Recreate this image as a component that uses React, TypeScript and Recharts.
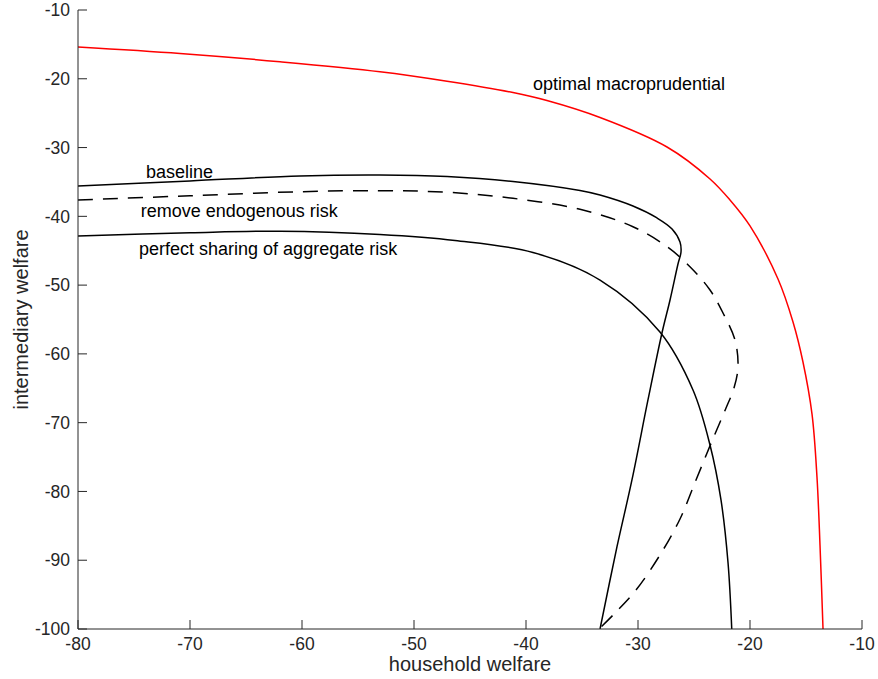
import React from 'react'
import { LineChart, Line, XAxis, YAxis, ReferenceDot } from 'recharts'

// household welfare (x) vs intermediary welfare (y)
const optimalHH = [-80, -70.89, -61.96, -53.04, -47.05, -41.16, -38.13, -33.39, -27.41, -23.57, -21.79, -20.0, -17.5, -16.16, -15.27, -14.46, -14.02, -13.75, -13.48]
const optimalInt = [-15.38, -16.32, -17.52, -18.97, -20.35, -22.0, -23.16, -25.63, -29.92, -34.57, -37.62, -41.4, -49.11, -55.36, -61.18, -68.8, -77.9, -87.78, -100]

const baselineHH = [-80, -70, -60.18, -53.04, -47.05, -41.16, -35.18, -33.39, -30.45, -28.3, -26.96, -26.25, -26.16, -26.43, -27.14, -27.86, -29.11, -30.54, -31.88, -33.39]
const baselineInt = [-35.59, -34.86, -34.13, -33.99, -34.21, -34.93, -36.24, -36.9, -38.5, -40.24, -41.84, -43.73, -45.18, -46.93, -52.16, -56.96, -66.7, -78.33, -88.07, -100]

const noEndoHH = [-80, -70, -60.18, -53.04, -47.05, -41.16, -35.18, -30.45, -27.41, -25.36, -23.57, -22.41, -21.34, -21.07, -21.43, -22.14, -23.39, -24.82, -26.25, -28.04, -30.18, -32.14, -33.48]
const noEndoInt = [-37.62, -37.01, -36.42, -36.27, -36.5, -37.38, -38.98, -41.51, -44.41, -47.32, -50.71, -54.05, -57.98, -61.86, -64.96, -67.87, -72.66, -78.33, -84.0, -89.24, -94.33, -97.82, -100]

const sharingHH = [-80, -70, -61.96, -53.04, -46.34, -39.38, -33.39, -28.04, -25.09, -23.57, -22.59, -21.96, -21.63]
const sharingInt = [-42.86, -42.39, -42.16, -42.64, -43.51, -45.26, -49.26, -56.82, -65.25, -73.25, -81.24, -90.4, -100]

const xTicks = [-80, -70, -60, -50, -40, -30, -20, -10]
const yTicks = [-100, -90, -80, -70, -60, -50, -40, -30, -20, -10]

const curveLabels = [
    { text: 'optimal macroprudential', x: -39.38, y: -20.76 },
    { text: 'baseline', x: -73.93, y: -33.55 },
    { text: 'remove endogenous risk', x: -74.4, y: -39.22 },
    { text: 'perfect sharing of aggregate risk', x: -74.55, y: -44.65 },
]

const toPoints = (xs: number[], ys: number[]) => xs.map((x, i) => ({ x, y: ys[i] }))

const AXIS = '#262626'

// centripetal catmull-rom, the frontiers fold back so the built-in curves kink
const catmullRom = (context: any) => {
    let pts: number[][] = []
    const seg = (a: number[], b: number[]) => Math.sqrt(Math.hypot(b[0] - a[0], b[1] - a[1]))
    return {
        areaStart() {},
        areaEnd() {},
        lineStart() {
            pts = []
        },
        point(x: number, y: number) {
            pts.push([+x, +y])
        },
        lineEnd() {
            if (!pts.length) return
            context.moveTo(pts[0][0], pts[0][1])
            for (let i = 0; i < pts.length - 1; i++) {
                const p0 = pts[i - 1]
                const p1 = pts[i]
                const p2 = pts[i + 1]
                const p3 = pts[i + 2]
                const l12 = seg(p1, p2)
                let c1 = p1
                let c2 = p2
                if (p0) {
                    const l01 = seg(p0, p1)
                    const a = 2 * l01 * l01 + 3 * l01 * l12 + l12 * l12
                    const n = 3 * l01 * (l01 + l12)
                    if (n > 1e-9) c1 = [0, 1].map(k => (p1[k] * a - p0[k] * l12 * l12 + p2[k] * l01 * l01) / n)
                }
                if (p3) {
                    const l23 = seg(p2, p3)
                    const b = 2 * l23 * l23 + 3 * l23 * l12 + l12 * l12
                    const m = 3 * l23 * (l23 + l12)
                    if (m > 1e-9) c2 = [0, 1].map(k => (p2[k] * b + p1[k] * l23 * l23 - p3[k] * l12 * l12) / m)
                }
                context.bezierCurveTo(c1[0], c1[1], c2[0], c2[1], p2[0], p2[1])
            }
        },
    }
}

// ticks point into the plot, like matlab
const XTick = (props: any) => {
    const { x, y, payload } = props
    return (
        <g>
            <line x1={x} x2={x} y1={y} y2={y - 9} stroke={AXIS} />
            <text x={x} y={y + 21} textAnchor="middle" fill={AXIS} fontSize={17.5}>
                {payload.value}
            </text>
        </g>
    )
}

const YTick = (props: any) => {
    const { x, y, payload } = props
    return (
        <g>
            <line x1={x} x2={x + 9} y1={y} y2={y} stroke={AXIS} />
            <text x={x - 8} y={y + 6.2} textAnchor="end" fill={AXIS} fontSize={17.5}>
                {payload.value}
            </text>
        </g>
    )
}

export default function App() {
    return (
        <div
            style={{
                position: 'absolute',
                left: 0,
                top: 0,
                width: 878,
                height: 679,
                background: '#fff',
                fontFamily: '"Liberation Sans", Arial, sans-serif',
            }}
        >
            <LineChart width={878} height={679} margin={{ top: 10, right: 16, bottom: 0, left: 0 }}>
                <XAxis
                    dataKey="x"
                    type="number"
                    domain={[-80, -10]}
                    ticks={xTicks}
                    interval={0}
                    allowDataOverflow
                    height={50}
                    tickSize={0}
                    tickMargin={0}
                    tickLine={false}
                    tick={<XTick />}
                    axisLine={{ stroke: AXIS }}
                    label={{ value: 'household welfare', position: 'insideBottom', offset: 8, fill: AXIS, fontSize: 20 }}
                />
                <YAxis
                    type="number"
                    domain={[-100, -10]}
                    ticks={yTicks}
                    interval={0}
                    allowDataOverflow
                    width={78}
                    tickSize={0}
                    tickMargin={0}
                    tickLine={false}
                    tick={<YTick />}
                    axisLine={{ stroke: AXIS }}
                    label={{
                        value: 'intermediary welfare',
                        angle: -90,
                        position: 'insideLeft',
                        offset: 21,
                        fill: AXIS,
                        fontSize: 20,
                        style: { textAnchor: 'middle' },
                    }}
                />
                <Line
                    data={toPoints(optimalHH, optimalInt)}
                    dataKey="y"
                    type={catmullRom as any}
                    stroke="#ff0000"
                    strokeWidth={1.5}
                    dot={false}
                    activeDot={false}
                    isAnimationActive={false}
                />
                <Line
                    data={toPoints(baselineHH, baselineInt)}
                    dataKey="y"
                    type={catmullRom as any}
                    stroke="#000"
                    strokeWidth={1.5}
                    dot={false}
                    activeDot={false}
                    isAnimationActive={false}
                />
                <Line
                    data={toPoints(noEndoHH, noEndoInt)}
                    dataKey="y"
                    type={catmullRom as any}
                    stroke="#000"
                    strokeWidth={1.5}
                    strokeDasharray="15 10"
                    dot={false}
                    activeDot={false}
                    isAnimationActive={false}
                />
                <Line
                    data={toPoints(sharingHH, sharingInt)}
                    dataKey="y"
                    type={catmullRom as any}
                    stroke="#000"
                    strokeWidth={1.5}
                    dot={false}
                    activeDot={false}
                    isAnimationActive={false}
                />
                {curveLabels.map(l => (
                    <ReferenceDot
                        key={l.text}
                        x={l.x}
                        y={l.y}
                        r={0}
                        fill="none"
                        stroke="none"
                        label={{ value: l.text, position: 'right', offset: 0, fill: '#000', fontSize: 18 }}
                    />
                ))}
            </LineChart>
        </div>
    )
}
